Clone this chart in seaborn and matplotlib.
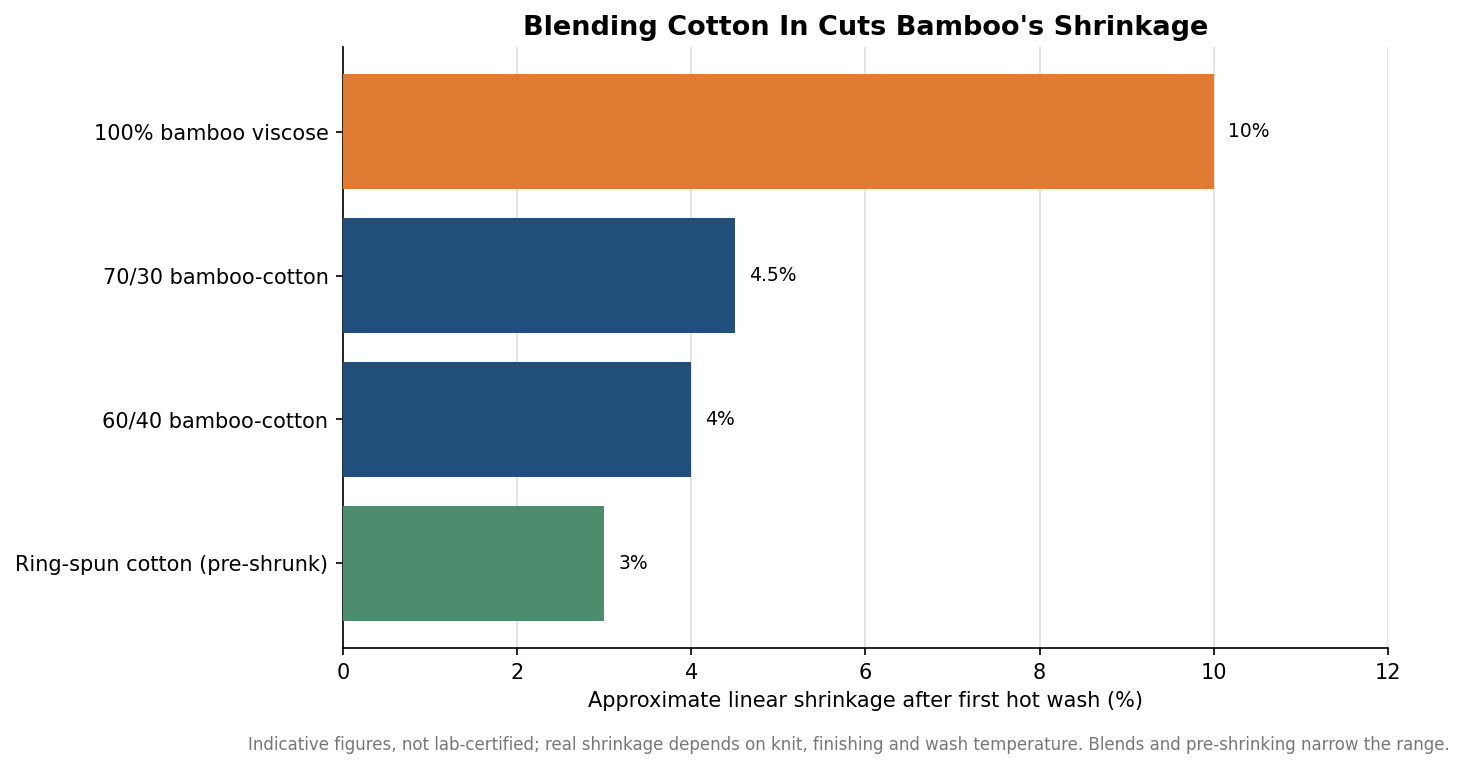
import seaborn as sns
import matplotlib.pyplot as plt
import pandas as pd

# Données
fabrics = ['100% bamboo viscose', '70/30 bamboo-cotton', '60/40 bamboo-cotton', 'Ring-spun cotton (pre-shrunk)']
shrinkage = [10, 4.5, 4, 3]
value_labels = ['10%', '4.5%', '4%', '3%']
bar_colors = ['#E07B33', '#1F4F7A', '#1F4F7A', '#4E8C6E']

df = pd.DataFrame({'Fabric': fabrics, 'Shrinkage': shrinkage})

plt.rcParams['font.family'] = ['DejaVu Sans']

fig, ax = plt.subplots(figsize=(9.76, 5.12), dpi=150)
fig.subplots_adjust(left=0.2343, right=0.948, top=0.9388, bottom=0.1563)

sns.barplot(data=df, y='Fabric', x='Shrinkage', hue='Fabric', palette=bar_colors,
            legend=False, width=0.8, saturation=1, linewidth=0, ax=ax, zorder=3)

# Étiquettes des valeurs
for i, (v, lab) in enumerate(zip(shrinkage, value_labels)):
    ax.text(v + 0.16, i, lab, va='center', ha='left', fontsize=9, color='black')

ax.set_xlim(0, 12)
ax.set_ylim(3.59, -0.59)
ax.set_xticks(range(0, 13, 2))
ax.grid(axis='x', color='#dddddd', linewidth=0.8, zorder=0)
ax.grid(axis='y', visible=False)
ax.set_axisbelow(True)
sns.despine(ax=ax)
ax.tick_params(axis='both', labelsize=10)

ax.set_ylabel('')
ax.set_xlabel('Approximate linear shrinkage after first hot wash (%)', fontsize=10)
ax.set_title("Blending Cotton In Cuts Bamboo's Shrinkage", fontsize=13, fontweight='bold')

fig.text(0.99, 0.03, 'Indicative figures, not lab-certified; real shrinkage depends on knit, finishing and wash temperature. '
         'Blends and pre-shrinking narrow the range.', ha='right', va='center', fontsize=8, color='#777777')

fig.savefig('out.png', dpi=150)
